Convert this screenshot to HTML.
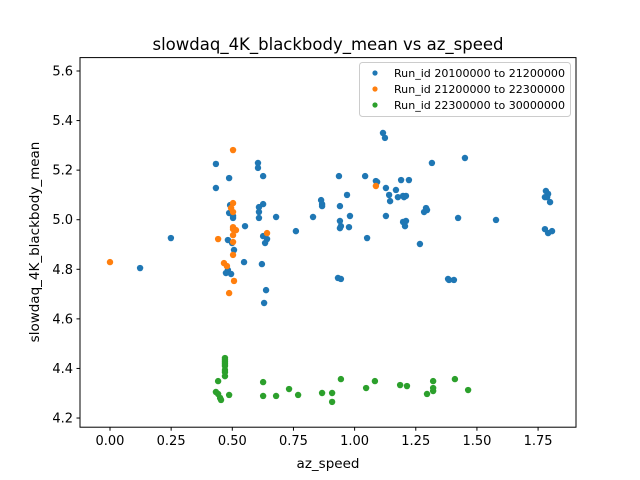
<!DOCTYPE html>
<html><head><meta charset="utf-8"><style>
body{margin:0;background:#fff;}
svg{display:block;font-family:"DejaVu Sans","Liberation Sans",sans-serif;}
</style></head><body>
<svg id="chart" width="640" height="480" viewBox="0 0 640 480">
<rect width="640" height="480" fill="#fff"/>
<text x="328" y="50" font-size="16.5" text-anchor="middle">slowdaq_4K_blackbody_mean vs az_speed</text>
<g id="plot"></g>
<rect x="80" y="57.6" width="496" height="369.6" fill="none" stroke="#000" stroke-width="1"/>
<text x="328" y="468" font-size="13.5" text-anchor="middle">az_speed</text>
<text transform="translate(39,242) rotate(-90)" font-size="13.5" text-anchor="middle">slowdaq_4K_blackbody_mean</text>
<g>
<rect x="359.5" y="62.5" width="211" height="54" rx="3" fill="#fff" fill-opacity="0.8" stroke="#ccc"/>
<circle cx="375" cy="73" r="2.6" fill="#1f77b4"/><text x="394" y="77" font-size="11" textLength="171" lengthAdjust="spacingAndGlyphs">Run_id 20100000 to 21200000</text>
<circle cx="375" cy="89" r="2.6" fill="#ff7f0e"/><text x="394" y="93" font-size="11" textLength="171" lengthAdjust="spacingAndGlyphs">Run_id 21200000 to 22300000</text>
<circle cx="375" cy="105" r="2.6" fill="#2ca02c"/><text x="394" y="109" font-size="11" textLength="171" lengthAdjust="spacingAndGlyphs">Run_id 22300000 to 30000000</text>
</g>
</svg>
<script>
const xTicks=[0,0.25,0.5,0.75,1.0,1.25,1.5,1.75];
const xTickLabels=["0.00","0.25","0.50","0.75","1.00","1.25","1.50","1.75"];
const yTicks=[4.2,4.4,4.6,4.8,5.0,5.2,5.4,5.6];
const yTickLabels=["4.2","4.4","4.6","4.8","5.0","5.2","5.4","5.6"];
const blueX=[0.123,0.249,0.433,0.433,0.487,0.491,0.487,0.482,0.499,0.503,0.503,0.482,0.495,0.474,0.507,0.552,0.605,0.605,0.626,0.609,0.626,0.609,0.609,0.642,0.548,0.626,0.634,0.621,0.630,0.638,0.679,0.760,0.830,0.863,0.867,0.867,0.936,0.940,0.940,0.940,0.944,0.932,0.944,0.969,0.981,0.977,1.043,1.051,1.087,1.092,1.116,1.124,1.128,1.128,1.141,1.145,1.169,1.177,1.190,1.198,1.202,1.210,1.206,1.210,1.198,1.222,1.267,1.284,1.292,1.296,1.316,1.382,1.386,1.406,1.423,1.451,1.578,1.782,1.787,1.791,1.799,1.778,1.791,1.807,1.778];
const blueY=[4.805,4.926,5.225,5.128,5.168,5.059,5.027,4.918,4.906,5.015,5.007,4.797,4.781,4.785,4.878,4.974,5.229,5.209,5.176,5.051,5.063,5.007,5.031,4.922,4.829,4.934,4.906,4.821,4.664,4.716,5.011,4.954,5.011,5.079,5.063,5.055,5.176,5.055,4.995,4.966,4.974,4.765,4.761,5.100,5.015,4.970,5.176,4.926,5.156,5.152,5.350,5.330,5.015,5.128,5.100,5.075,5.120,5.091,5.160,5.096,5.091,5.096,4.974,4.995,4.991,5.160,4.902,5.031,5.047,5.039,5.229,4.761,4.757,4.757,5.007,5.249,4.999,5.116,5.091,5.104,5.071,4.962,4.946,4.954,5.091];
const orangeX=[0,0.503,0.442,0.466,0.503,0.495,0.503,0.503,0.503,0.503,0.503,0.503,0.507,0.478,0.487,0.515,0.642,1.087];
const orangeY=[4.829,5.281,4.922,4.825,5.067,5.047,5.031,4.970,4.962,4.938,4.910,4.858,4.753,4.813,4.704,4.958,4.946,5.136];
const greenX=[0.470,0.470,0.470,0.470,0.470,0.470,0.470,0.470,0.442,0.433,0.442,0.450,0.454,0.487,0.626,0.626,0.679,0.732,0.769,0.867,0.908,0.908,0.944,1.047,1.083,1.186,1.214,1.296,1.321,1.321,1.321,1.410,1.464];
const greenY=[4.442,4.434,4.426,4.418,4.410,4.394,4.385,4.369,4.349,4.305,4.297,4.281,4.273,4.293,4.345,4.289,4.289,4.317,4.293,4.301,4.301,4.265,4.357,4.321,4.349,4.333,4.329,4.297,4.349,4.321,4.309,4.357,4.313];
const L=80,R=576,T=57.6,B=427.2,XMIN=-0.1226,XMAX=1.905,YMIN=4.163,YMAX=5.654;
function sx(v){return L+(v-XMIN)/(XMAX-XMIN)*(R-L);}
function sy(v){return B-(v-YMIN)/(YMAX-YMIN)*(B-T);}
const NS="http://www.w3.org/2000/svg";
const g=document.getElementById('plot');
function mk(tag,attrs){const e=document.createElementNS(NS,tag);for(const k in attrs)e.setAttribute(k,attrs[k]);g.appendChild(e);return e;}
xTicks.forEach((t,i)=>{
 const l=mk('line',{x1:sx(t),x2:sx(t),y1:B,y2:B+3.5,stroke:'#000'});
 
 
 const tx=mk('text',{x:sx(t),y:B+18,'font-size':13,'text-anchor':'middle'});
 tx.textContent=xTickLabels[i];
 
 
});
yTicks.forEach((t,i)=>{
 const l=mk('line',{x1:L-3.5,x2:L,y1:sy(t),y2:sy(t),stroke:'#000'});
 
 
 const tx=mk('text',{x:L-7,y:sy(t)+4.5,'font-size':13,'text-anchor':'end'});
 tx.textContent=yTickLabels[i];
 
 
});
function series(xs,ys,color,name){
 xs.forEach((x,i)=>{
  const c=mk('circle',{cx:sx(x),cy:sy(ys[i]),r:3.2,fill:color});
  
  
 });
}
series(blueX,blueY,'#1f77b4','point-run-20100000');
series(orangeX,orangeY,'#ff7f0e','point-run-21200000');
series(greenX,greenY,'#2ca02c','point-run-22300000');
</script>
</body></html>
